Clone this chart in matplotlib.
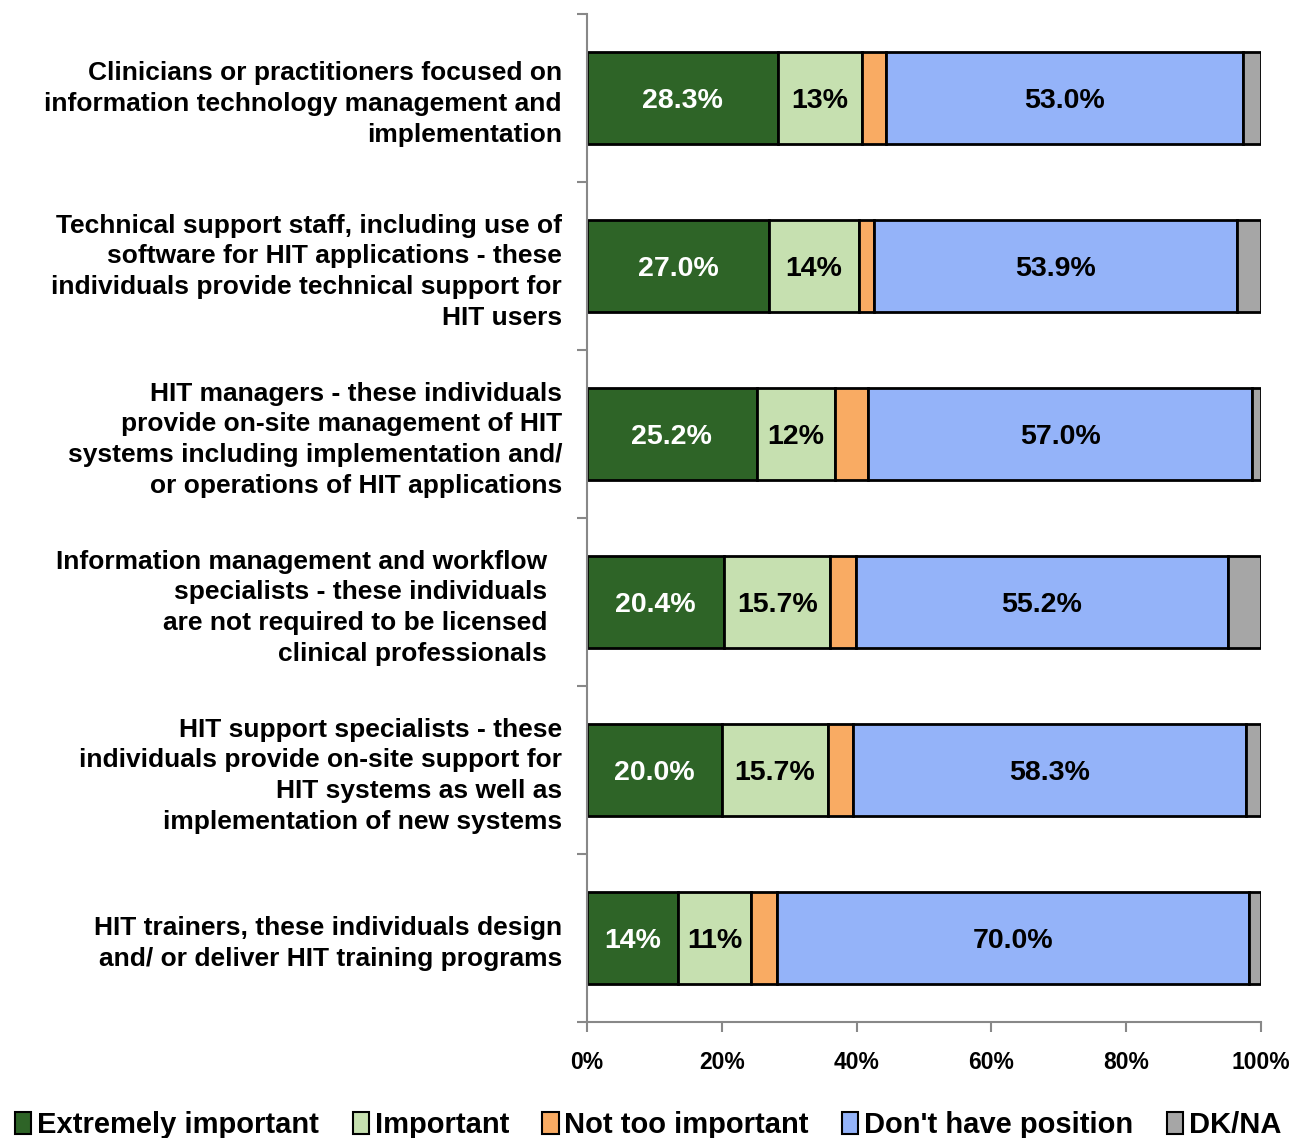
import numpy as np
import matplotlib
matplotlib.use("Agg")
import matplotlib.pyplot as plt
from matplotlib.patches import Patch

plt.rcParams['font.family'] = ['Liberation Sans', 'DejaVu Sans']
plt.rcParams['font.weight'] = 'bold'

categories = [
    "Clinicians or practitioners focused on\ninformation technology management and\nimplementation",
    "Technical support staff, including use of\nsoftware for HIT applications - these\nindividuals provide technical support for\nHIT users",
    "HIT managers - these individuals\nprovide on-site management of HIT\nsystems including implementation and/\nor operations of HIT applications",
    "Information management and workflow  \nspecialists - these individuals  \nare not required to be licensed  \nclinical professionals  ",
    "HIT support specialists - these\nindividuals provide on-site support for\nHIT systems as well as\nimplementation of new systems",
    "HIT trainers, these individuals design\nand/ or deliver HIT training programs",
]

series = ["Extremely important", "Important", "Not too important", "Don't have position", "DK/NA"]
extremely = [28.3, 27.0, 25.2, 20.4, 20.0, 13.5]
important = [12.5, 13.4, 11.6, 15.7, 15.7, 10.8]
not_too = [3.6, 2.2, 4.9, 3.8, 3.8, 3.9]
no_position = [53.0, 53.9, 57.0, 55.2, 58.3, 70.0]
dk_na = [2.6, 3.5, 1.3, 4.9, 2.2, 1.8]

lbl_extremely = ["28.3%", "27.0%", "25.2%", "20.4%", "20.0%", "14%"]
lbl_important = ["13%", "14%", "12%", "15.7%", "15.7%", "11%"]
lbl_no_position = ["53.0%", "53.9%", "57.0%", "55.2%", "58.3%", "70.0%"]

colors = ["#2E6427", "#C6E0B0", "#F9AB63", "#94B3F9", "#A6A6A6"]

data = [extremely, important, not_too, no_position, dk_na]
labels = [lbl_extremely, lbl_important, None, lbl_no_position, None]
text_colors = ["white", "black", "black", "black", "black"]

fig = plt.figure(figsize=(13.07, 11.38), dpi=100)
ax = fig.add_axes([587 / 1307, 1 - 1022 / 1138, 674 / 1307, 1008 / 1138])

y = np.arange(len(categories))
left = np.zeros(len(categories))
for vals, col, lbls, tc in zip(data, colors, labels, text_colors):
    bars = ax.barh(y, vals, left=left, height=0.55, color=col, edgecolor="black", linewidth=2)
    if lbls is not None:
        for b, t in zip(bars, lbls):
            ax.text(b.get_x() + b.get_width() / 2, b.get_y() + b.get_height() / 2, t,
                    ha="center", va="center_baseline", color=tc, fontsize=20.5, fontweight="bold")
    left += np.array(vals)

ax.set_xlim(0, 100)
ax.set_ylim(len(categories) - 0.5, -0.5)
ax.set_xticks(np.arange(0, 101, 20))
ax.set_xticklabels([f"{v}%" for v in range(0, 101, 20)], fontsize=16.5, fontweight="bold")
ax.set_yticks(np.arange(-0.5, len(categories), 1), minor=False)
ax.set_yticklabels([])
ax.set_yticks(y, minor=True)
ax.set_yticklabels(categories, minor=True, fontsize=19, fontweight="bold", ha="right")
for t in ax.get_yminorticklabels():
    t.set_linespacing(1.36)
ax.tick_params(axis="y", which="minor", length=0, pad=18)
ax.tick_params(axis="y", which="major", length=7, color="#888888", direction="out", width=1.5)
ax.tick_params(axis="x", length=7, color="#888888", direction="out", width=1.5, pad=14)

for s in ["top", "right"]:
    ax.spines[s].set_visible(False)
for s in ["left", "bottom"]:
    ax.spines[s].set_color("#888888")
    ax.spines[s].set_linewidth(1.5)

handles = [Patch(facecolor=c, edgecolor="black", linewidth=1.5) for c in colors]
fig.legend(handles, series, loc="lower center", bbox_to_anchor=(0.496, -0.024), ncol=5,
           frameon=False, handlelength=0.55, handleheight=0.75,
           handletextpad=0.2, columnspacing=1.15, prop={"weight": "bold", "size": 21})

fig.savefig("out.png", dpi=100)
